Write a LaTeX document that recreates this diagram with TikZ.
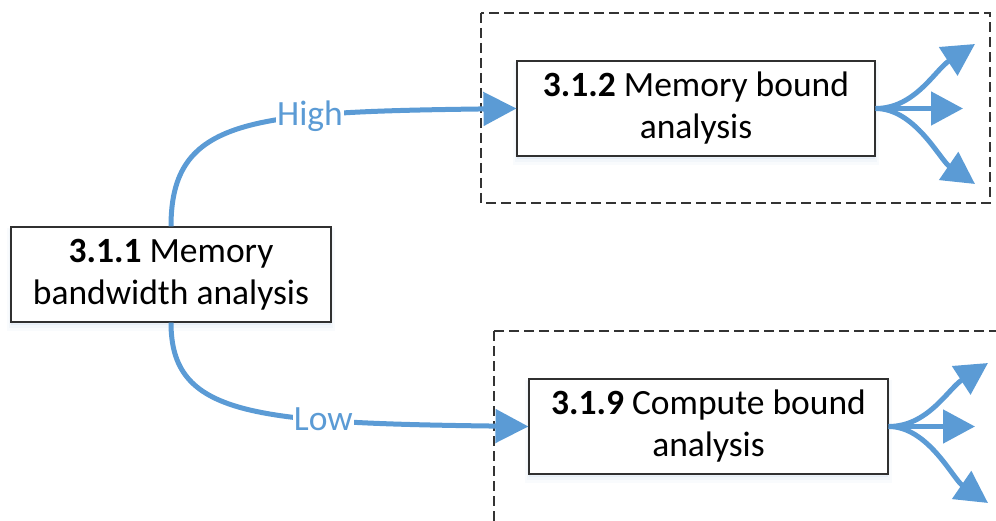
\documentclass[tikz,border=0pt]{standalone}
\usepackage{fontspec}
\setmainfont{Carlito}
\usetikzlibrary{arrows.meta}
\definecolor{linkblue}{HTML}{5B9BD5}
\definecolor{boxline}{HTML}{303030}
\definecolor{dashline}{HTML}{333333}
\definecolor{shadowc}{HTML}{9DB9DC}
\tikzset{
  taskbox/.style={draw=boxline, line width=1.1pt, fill=white, align=center, inner sep=0pt,
    minimum height=95pt, font=\fontsize{35.5}{42}\selectfont,
    preaction={draw=shadowc, line width=8pt, opacity=0.06, transform canvas={yshift=-5pt}},
    preaction={draw=shadowc, line width=4pt, opacity=0.08, transform canvas={yshift=-4pt}},
    preaction={fill=shadowc, opacity=0.15, transform canvas={yshift=-3pt}}},
  groupbox/.style={draw=dashline, line width=1.2pt, dash pattern=on 10pt off 5pt},
  conn/.style={draw=linkblue, line width=5pt, -{Triangle[length=33pt,width=33pt]}},
  fanarrow/.style={draw=linkblue, line width=5pt, -{Triangle[length=32pt,width=33pt]}},
  edgelabel/.style={fill=white, text=linkblue, inner sep=1pt, font=\fontsize{35.5}{42}\selectfont}
}
\begin{document}
\begin{tikzpicture}[x=1pt,y=-1pt]
\useasboundingbox (0,0) rectangle (996,521);
\clip (0,0) rectangle (996,521);
% group frames
\draw[groupbox] (481,13) rectangle (990,203);
\draw[groupbox] (494,331) rectangle (1010,540);
% task boxes
\node[taskbox, minimum width=320pt] (n311) at (171,274.5) {\textbf{3.1.1} Memory\\bandwidth analysis};
\node[taskbox, minimum width=358pt] (n312) at (696,108.5) {\textbf{3.1.2} Memory bound\\analysis};
\node[taskbox, minimum width=359pt] (n319) at (708.5,426.5) {\textbf{3.1.9} Compute bound\\analysis};
% main connectors
\draw[conn] (n311.north) .. controls (171,118) and (250,112) .. (n312.west)
  node[pos=0.67, edgelabel] {High};
\draw[conn] (n311.south) .. controls (171,415) and (250,423) .. (n319.west)
  node[pos=0.69, edgelabel] {Low};
% fan-out tips
\coordinate (a1) at (975,44);
\coordinate (a2) at (963,108.5);
\coordinate (a3) at (975,184);
\coordinate (b1) at (988,363);
\coordinate (b2) at (975,426.5);
\coordinate (b3) at (988,503);
\draw[fanarrow] (n312.east) .. controls (915,108.5) and (935,70) .. (a1);
\draw[fanarrow] (n312.east) -- (a2);
\draw[fanarrow] (n312.east) .. controls (915,108.5) and (940,160) .. (a3);
\draw[fanarrow] (n319.east) .. controls (928,426.5) and (948,389) .. (b1);
\draw[fanarrow] (n319.east) -- (b2);
\draw[fanarrow] (n319.east) .. controls (928,426.5) and (953,479) .. (b3);
\end{tikzpicture}
\end{document}
